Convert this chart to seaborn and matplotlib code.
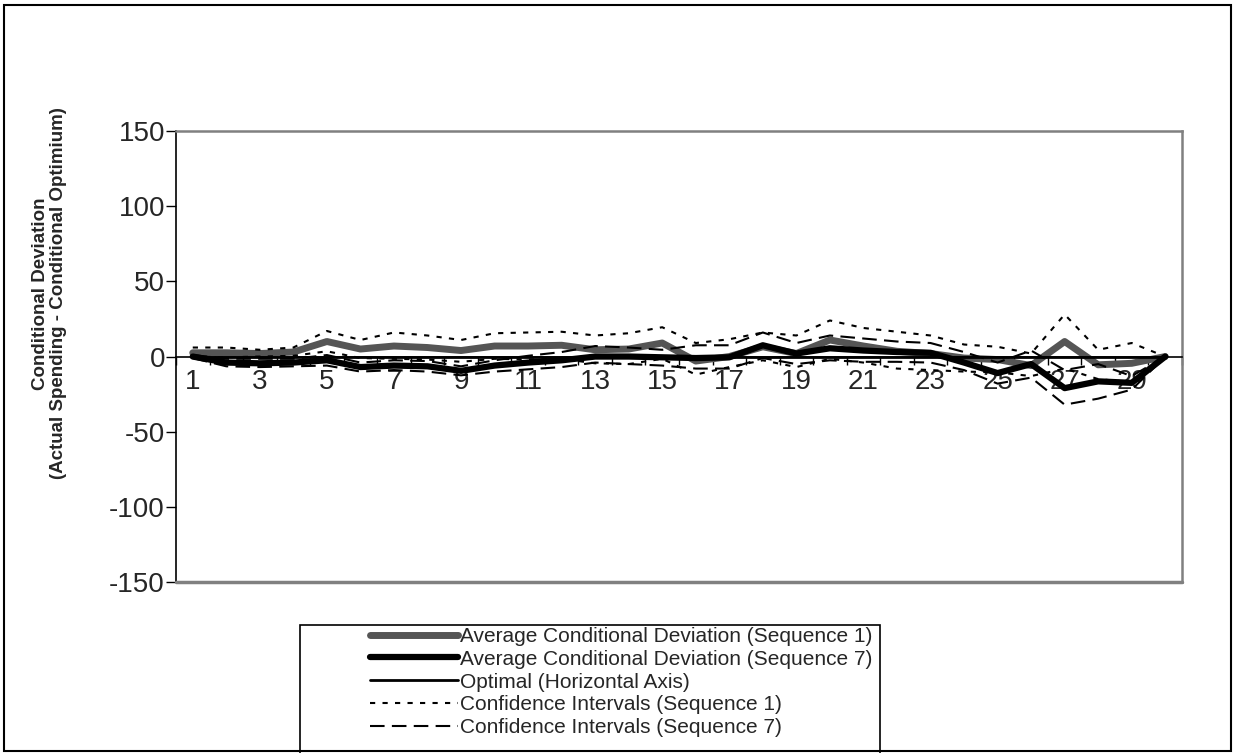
import numpy as np
import pandas as pd
import matplotlib
matplotlib.use("Agg")
import matplotlib.pyplot as plt
import seaborn as sns
from matplotlib.patches import Rectangle

# periods 1..30
periods = list(range(1, 31))

# average conditional deviation
seq1_avg = [2.5, 2.5, 2, 3, 10, 5, 7, 6, 4, 7, 7, 7.5, 4.5, 5, 9,
            -3, 0, 6.5, 2, 11, 7, 3.5, 2, -1, -2, -6, 10, -5.5, -4.5, 0]
seq7_avg = [0, -4, -4.5, -4, -2.5, -7, -6, -6.5, -9.5, -6, -4, -2.5, 0, 0, -0.5,
            -1, -0.5, 7.5, 2, 5.5, 4, 3, 2.5, -4, -11, -5, -21, -16.5, -17.5, 0]
optimal = [0, 0, 0, 0, 0, 0, 0, 0, 0, 0, 0, 0, 0, 0, 0,
           0, 0, 0, 0, 0, 0, 0, 0, 0, 0, 0, 0, 0, 0, 0]

# confidence intervals
seq1_hi = [6, 6, 4.5, 6, 17, 11, 16, 14, 11, 15.5, 16, 16.5, 14, 15.5, 19.5,
           9, 11.5, 16, 14, 24, 19, 16.5, 14, 8, 6.5, 2, 28, 4.5, 9, 0]
seq1_lo = [0, -0.5, 0, 0.5, 3.5, -1, -1.5, -2, -3.5, -1.5, -2, -1.5, -4.5, -5, -1.5,
           -12, -7, -2.5, -7, -1.5, -4, -8, -9, -10, -10.5, -13, -8, -15, -17, 0]
seq7_hi = [1, -1.5, -1.5, -1.5, 1, -4, -2.5, -3, -6.5, -2.5, 0.5, 3, 7, 6, 4.5,
           7.5, 7.5, 16, 9, 14, 12, 10, 9, 3, -4, 4, -9, -5, -13, 0]
seq7_lo = [-1, -6.5, -7, -6.5, -6, -10, -9, -10, -12.5, -10, -8.5, -7, -4, -5, -6,
           -8, -8, -1, -5, -2.5, -3.5, -3.5, -4, -9, -18, -14, -32, -28, -22, 0]

y_ticks = [-150, -100, -50, 0, 50, 100, 150]

df = pd.DataFrame({'period': periods, 'seq1': seq1_avg, 'seq7': seq7_avg,
                   'opt': optimal, 'seq1_hi': seq1_hi, 'seq1_lo': seq1_lo,
                   'seq7_hi': seq7_hi, 'seq7_lo': seq7_lo})

sns.set_style('white')
plt.rcParams['font.family'] = ['Liberation Sans', 'DejaVu Sans']

fig = plt.figure(figsize=(12.35, 7.53), dpi=100)
ax = fig.add_axes([0.1425, 0.227, 0.8146, 0.599])

dot = (2.5, 3.5)
dash = (7, 3.5)

sns.lineplot(data=df, x='period', y='seq1', ax=ax, color='#555555', lw=5,
             label='Average Conditional Deviation (Sequence 1)')
sns.lineplot(data=df, x='period', y='seq7', ax=ax, color='black', lw=4.5,
             label='Average Conditional Deviation (Sequence 7)')
sns.lineplot(data=df, x='period', y='opt', ax=ax, color='black', lw=2,
             label='Optimal (Horizontal Axis)')
sns.lineplot(data=df, x='period', y='seq1_hi', ax=ax, color='black', lw=1.5,
             label='Confidence Intervals (Sequence 1)').lines[-1].set_dashes(dot)
sns.lineplot(data=df, x='period', y='seq1_lo', ax=ax, color='black', lw=1.5,
             label='_nolegend_').lines[-1].set_dashes(dot)
sns.lineplot(data=df, x='period', y='seq7_hi', ax=ax, color='black', lw=1.5,
             label='Confidence Intervals (Sequence 7)').lines[-1].set_dashes(dash)
sns.lineplot(data=df, x='period', y='seq7_lo', ax=ax, color='black', lw=1.5,
             label='_nolegend_').lines[-1].set_dashes(dash)

# axes setup (excel-like)
ax.set_xlim(0.5, 30.5)
ax.set_ylim(-150, 150)
ax.set_yticks(y_ticks)
ax.set_yticklabels([str(v) for v in y_ticks], fontsize=20)
ax.tick_params(axis='y', direction='out', length=7, width=1, color='black',
               left=True, pad=1)

ax.spines['bottom'].set_position(('data', 0))
ax.spines['bottom'].set_color('black')
ax.spines['bottom'].set_linewidth(1.2)
ax.spines['left'].set_color('black')
ax.spines['left'].set_linewidth(1.2)
ax.spines['right'].set_color('#808080')
ax.spines['right'].set_linewidth(1.8)
ax.spines['top'].set_color('#808080')
ax.spines['top'].set_linewidth(1.8)
ax.axhline(-150, color='#808080', lw=2.5, clip_on=False, zorder=5)

# ticks at category boundaries, labels on odd categories
ax.set_xticks(np.arange(0.5, 31, 1))
ax.set_xticklabels([])
ax.set_xticks(periods[::2], minor=True)
ax.set_xticklabels([str(p) for p in periods[::2]], minor=True, fontsize=20)
ax.tick_params(axis='x', which='major', direction='out', length=6, width=1,
               color='black', bottom=True)
ax.tick_params(axis='x', which='minor', length=0, pad=9, bottom=True)

ax.set_xlabel('')
ax.set_ylabel('Conditional Deviation\n(Actual Spending - Conditional Optimium)',
              fontsize=13.5, fontweight='bold', linespacing=1.1)
ax.yaxis.set_label_coords(-0.108, 0.64)

# legend: box drawn separately, entries start right of its left edge
leg = ax.legend(loc='upper left', bbox_to_anchor=(370 / 1235, 1 - 627 / 753),
                bbox_transform=fig.transFigure, fontsize=15, frameon=False,
                handlelength=4.2, handletextpad=0.1, labelspacing=0.18,
                borderpad=0, borderaxespad=0)
fig.patches.append(Rectangle((300 / 1235, -0.02), 580 / 1235, 0.02 + 1 - 625 / 753,
                             transform=fig.transFigure, fill=False,
                             edgecolor='black', lw=1.2))

# outer chart border
fig.patches.append(Rectangle((0.003, 0.003), 0.994, 0.991, transform=fig.transFigure,
                             fill=False, edgecolor='black', lw=1.5))

fig.savefig('out.png', dpi=100)
